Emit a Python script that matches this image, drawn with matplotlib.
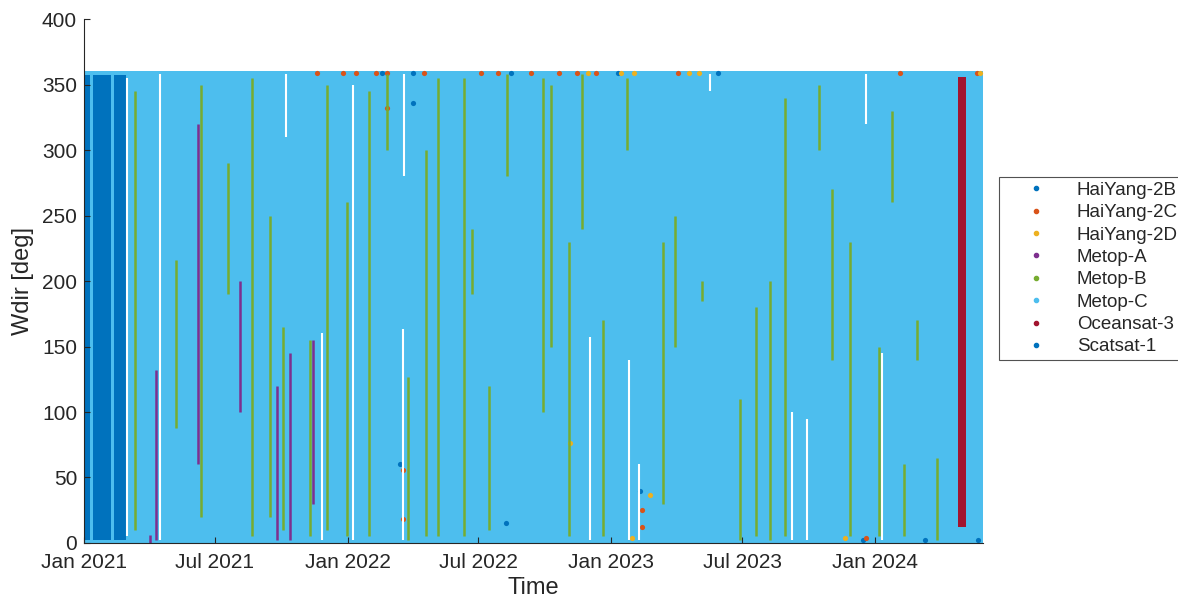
import matplotlib
matplotlib.use('Agg')
import matplotlib.pyplot as plt
import matplotlib.dates as mdates
import pandas as pd
from matplotlib.lines import Line2D

plt.rcParams['font.family'] = ['Liberation Sans', 'DejaVu Sans']

satellites = ['HaiYang-2B', 'HaiYang-2C', 'HaiYang-2D', 'Metop-A',
              'Metop-B', 'Metop-C', 'Oceansat-3', 'Scatsat-1']
colors = ['#0072BD', '#D95319', '#EDB120', '#7E2F8E',
          '#77AC30', '#4DBEEE', '#A2142F', '#0072BD']

# Metop-C covers nearly the whole period and all directions
metopc_start = '2021-01-01'
metopc_end = '2024-05-29'
metopc_low, metopc_high = 0, 360

# Scatsat-1 passes (early 2021)
scat_start = ['2021-01-01', '2021-01-13', '2021-02-12']
scat_end = ['2021-01-09', '2021-02-08', '2021-02-28']
scat_low, scat_high = 2, 357

# Oceansat-3 (spring 2024)
ocean_start = '2024-04-25'
ocean_end = '2024-05-06'
ocean_low, ocean_high = 12, 356

# columns where nobody has data
gap_dates = ['2021-03-02', '2021-04-16', '2021-10-08', '2021-11-26', '2022-01-08',
             '2022-03-18', '2022-03-20', '2022-12-02', '2023-01-25', '2023-02-08',
             '2023-05-17', '2023-09-08', '2023-09-29', '2023-12-20', '2024-01-10']
gap_low = [5, 2, 310, 2, 2, 2, 280, 2, 2, 2, 345, 2, 2, 320, 2]
gap_high = [355, 358, 358, 160, 350, 163, 358, 157, 140, 60, 358, 100, 95, 358, 145]

# Metop-B streaks visible through Metop-C
mb_dates = ['2021-03-13', '2021-05-08', '2021-06-12', '2021-07-20', '2021-08-22',
            '2021-09-15', '2021-10-03', '2021-11-10', '2021-12-03', '2021-12-31',
            '2022-01-31', '2022-02-25', '2022-03-26', '2022-04-20', '2022-05-06',
            '2022-06-11', '2022-06-22', '2022-07-15', '2022-08-09', '2022-09-28',
            '2022-10-10', '2022-11-03', '2022-11-21', '2022-12-20', '2023-01-22',
            '2023-03-13', '2023-03-30', '2023-05-07', '2023-06-28', '2023-07-20',
            '2023-08-09', '2023-08-29', '2023-10-15', '2023-11-02', '2023-11-27',
            '2024-01-07', '2024-01-25', '2024-02-10', '2024-02-28', '2024-03-26']
mb_low = [10, 88, 20, 190, 5, 20, 10, 5, 10, 5,
          5, 300, 2, 5, 5, 5, 190, 10, 280, 100,
          150, 5, 240, 5, 300, 30, 150, 185, 2, 5,
          2, 5, 300, 140, 5, 5, 260, 5, 140, 2]
mb_high = [345, 216, 350, 290, 355, 250, 165, 155, 350, 260,
           345, 358, 127, 300, 355, 355, 240, 120, 358, 355,
           350, 230, 358, 170, 355, 230, 250, 200, 110, 180,
           200, 340, 350, 270, 230, 150, 330, 60, 170, 65]

# Metop-A streaks (until its retirement late 2021)
ma_dates = ['2021-04-02', '2021-04-10', '2021-06-08', '2021-08-05',
            '2021-09-25', '2021-10-13', '2021-11-14']
ma_low = [0, 2, 60, 100, 2, 2, 30]
ma_high = [6, 132, 320, 200, 120, 145, 155]

# HaiYang points that show at the edges
hy2b_dates = ['2022-02-17', '2022-04-02', '2022-04-01', '2022-03-14', '2022-08-15',
              '2022-08-08', '2023-01-10', '2023-02-10', '2023-05-28', '2023-12-15',
              '2024-03-10', '2024-05-22']
hy2b_wdir = [359, 359, 336, 60, 359, 15, 359, 40, 359, 2, 2, 2]
hy2c_dates = ['2021-11-20', '2021-12-25', '2022-01-13', '2022-02-09', '2022-02-25',
              '2022-02-25', '2022-04-16', '2022-07-04', '2022-07-28', '2022-09-12',
              '2022-10-20', '2022-11-15', '2022-12-11', '2023-04-03', '2023-02-12',
              '2023-02-12', '2023-12-20', '2024-05-21', '2024-02-05', '2022-03-18',
              '2022-03-18']
hy2c_wdir = [359, 359, 359, 359, 359, 332, 359, 359, 359, 359,
             359, 359, 359, 359, 25, 12, 4, 359, 359, 18, 56]
hy2d_dates = ['2022-11-30', '2023-01-14', '2023-02-01', '2023-04-19', '2023-05-02',
              '2023-01-29', '2023-02-23', '2023-11-20', '2024-05-25', '2022-11-05']
hy2d_wdir = [359, 359, 359, 359, 359, 4, 37, 4, 359, 76]


def d(values):
    return pd.to_datetime(values)


fig = plt.figure(figsize=(11.78, 6.05), dpi=100)
ax = fig.add_axes([0.0713, 0.1025, 0.763, 0.866])

ax.fill_between(d([metopc_start, metopc_end]), metopc_low, metopc_high,
                color=colors[5], lw=0)
ax.vlines(d(gap_dates), gap_low, gap_high, colors='white', lw=1.5)
ax.vlines(d(ma_dates), ma_low, ma_high, colors=colors[3], lw=1.8)
ax.vlines(d(mb_dates), mb_low, mb_high, colors=colors[4], lw=1.8)
ax.scatter(d(hy2b_dates), hy2b_wdir, s=14, color=colors[0], lw=0)
ax.scatter(d(hy2c_dates), hy2c_wdir, s=14, color=colors[1], lw=0)
ax.scatter(d(hy2d_dates), hy2d_wdir, s=14, color=colors[2], lw=0)
ax.fill_between(d([ocean_start, ocean_end]), ocean_low, ocean_high,
                color=colors[6], lw=0)
for s, e in zip(scat_start, scat_end):
    ax.fill_between(d([s, e]), scat_low, scat_high, color=colors[7], lw=0)

ax.set_xlim(d(metopc_start), d(metopc_end))
ax.set_ylim(0, 400)
ax.set_yticks(range(0, 401, 50))
ax.xaxis.set_major_locator(mdates.MonthLocator(bymonth=[1, 7]))
ax.xaxis.set_major_formatter(mdates.DateFormatter('%b %Y'))

for side in ['top', 'right']:
    ax.spines[side].set_visible(False)
for side in ['left', 'bottom']:
    ax.spines[side].set_color('#262626')
    ax.spines[side].set_linewidth(0.8)
ax.tick_params(direction='in', length=4, width=0.8, colors='#262626',
               labelsize=15)
ax.tick_params(axis='x', pad=7)
ax.tick_params(axis='y', pad=5)

ax.set_xlabel('Time', fontsize=17, color='#262626', labelpad=4)
ax.set_ylabel('Wdir [deg]', fontsize=17, color='#262626', labelpad=6)

handles = [Line2D([], [], marker='.', linestyle='none', markersize=6, color=c)
           for c in colors]
leg = fig.legend(handles, satellites, loc='upper left',
                 bbox_to_anchor=(0.848, 0.7074), fontsize=13.5,
                 frameon=True, fancybox=False, handlelength=3.4,
                 handletextpad=0.5, labelspacing=0.28, borderpad=0.25,
                 borderaxespad=0)
leg.get_frame().set_edgecolor('#262626')
leg.get_frame().set_linewidth(0.8)
for t in leg.get_texts():
    t.set_color('#262626')

fig.savefig('out.png', dpi=100)
